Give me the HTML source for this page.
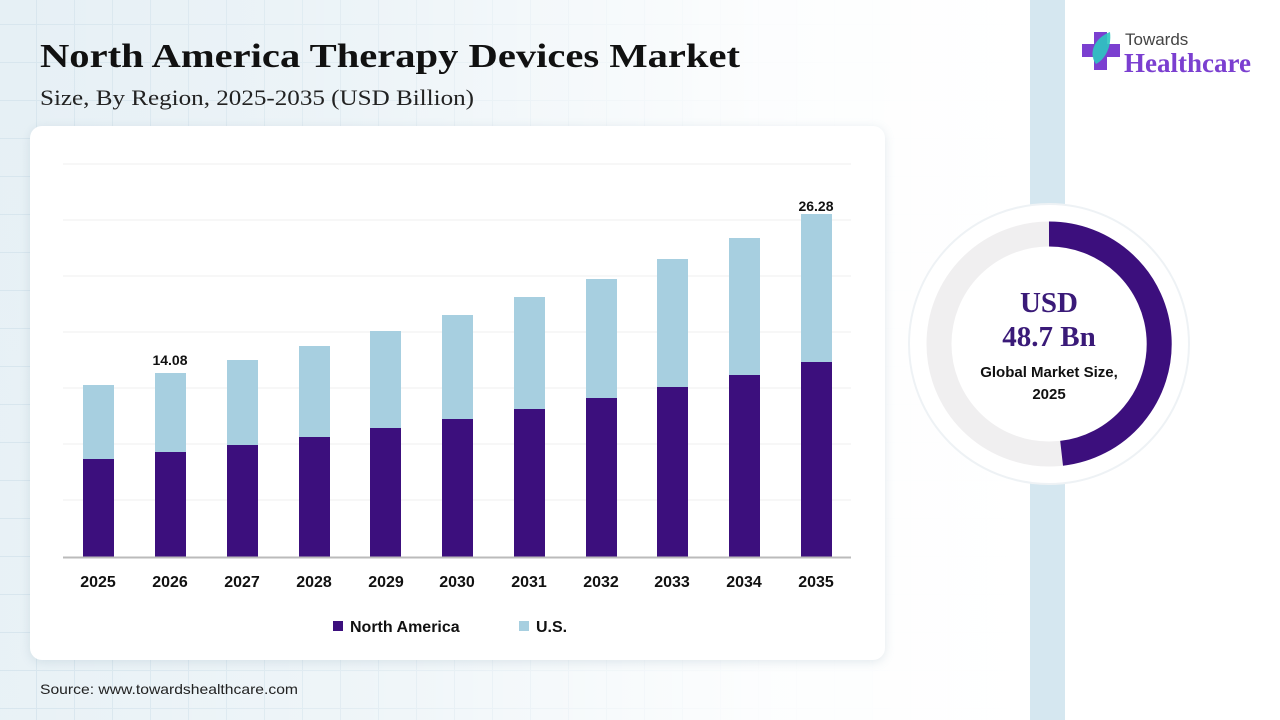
<!DOCTYPE html>
<html><head><meta charset="utf-8"><style>
html,body{margin:0;padding:0}
body{width:1280px;height:720px;position:relative;overflow:hidden;background:#fff;font-family:"Liberation Sans",sans-serif}
.bg{position:absolute;left:0;top:0;width:1030px;height:720px;
background-image:linear-gradient(90deg,rgba(255,255,255,0.1) 0,rgba(255,255,255,0.35) 35%,rgba(255,255,255,0.9) 75%,#fff 100%),
linear-gradient(#d3e3ec 1px,transparent 1px),linear-gradient(90deg,#d3e3ec 1px,transparent 1px),linear-gradient(#e3eef4,#e6f0f5);
background-size:100% 100%,38px 38px,38px 38px,100% 100%;background-position:0 0,0 24px,36px 0,0 0}
.strip{position:absolute;left:1030px;top:0;width:35px;height:720px;background:#d5e7f0}
.card{position:absolute;left:30px;top:126px;width:855px;height:534px;background:#fff;border-radius:12px;box-shadow:0 2px 10px rgba(120,150,170,0.2)}
</style></head><body>
<div class="bg"></div><div class="strip"></div>
<div class="card"></div>
<svg width="1280" height="720" style="position:absolute;left:0;top:0" font-family="Liberation Sans, sans-serif">
<text x="40" y="67" font-family="Liberation Serif, serif" font-weight="bold" font-size="34" fill="#111" textLength="700" lengthAdjust="spacingAndGlyphs">North America Therapy Devices Market</text>
<text x="40" y="105" font-family="Liberation Serif, serif" font-size="22" fill="#222" textLength="434" lengthAdjust="spacingAndGlyphs">Size, By Region, 2025-2035 (USD Billion)</text>
<text x="40" y="694" font-size="14" fill="#222" textLength="258" lengthAdjust="spacingAndGlyphs">Source: www.towardshealthcare.com</text>
<g stroke="#efefef" stroke-width="1">
<line x1="63" x2="851" y1="164" y2="164"/><line x1="63" x2="851" y1="220" y2="220"/><line x1="63" x2="851" y1="276" y2="276"/><line x1="63" x2="851" y1="332" y2="332"/><line x1="63" x2="851" y1="388" y2="388"/><line x1="63" x2="851" y1="444" y2="444"/><line x1="63" x2="851" y1="500" y2="500"/>
</g>
<g fill="#a7cfe0">
<rect x="83" y="385" width="31" height="172"/><rect x="155" y="373" width="31" height="184"/><rect x="227" y="360" width="31" height="197"/><rect x="299" y="346" width="31" height="211"/><rect x="370" y="331" width="31" height="226"/><rect x="442" y="315" width="31" height="242"/><rect x="514" y="297" width="31" height="260"/><rect x="586" y="279" width="31" height="278"/><rect x="657" y="259" width="31" height="298"/><rect x="729" y="238" width="31" height="319"/><rect x="801" y="214" width="31" height="343"/>
</g>
<g fill="#3c0f7d">
<rect x="83" y="459" width="31" height="98"/><rect x="155" y="452" width="31" height="105"/><rect x="227" y="445" width="31" height="112"/><rect x="299" y="437" width="31" height="120"/><rect x="370" y="428" width="31" height="129"/><rect x="442" y="419" width="31" height="138"/><rect x="514" y="409" width="31" height="148"/><rect x="586" y="398" width="31" height="159"/><rect x="657" y="387" width="31" height="170"/><rect x="729" y="375" width="31" height="182"/><rect x="801" y="362" width="31" height="195"/>
</g>
<line x1="63" x2="851" y1="557.5" y2="557.5" stroke="#bbb" stroke-width="2"/>
<g font-size="16" font-weight="bold" fill="#111" text-anchor="middle">
<text x="98" y="587">2025</text><text x="170" y="587">2026</text><text x="242" y="587">2027</text><text x="314" y="587">2028</text><text x="386" y="587">2029</text><text x="457" y="587">2030</text><text x="529" y="587">2031</text><text x="601" y="587">2032</text><text x="672" y="587">2033</text><text x="744" y="587">2034</text><text x="816" y="587">2035</text>
<text x="170" y="365" font-size="14">14.08</text><text x="816" y="211" font-size="14">26.28</text>
</g>
<rect x="333" y="621" width="10" height="10" fill="#3c0f7d"/>
<text x="350" y="632" font-size="16" font-weight="bold" fill="#111">North America</text>
<rect x="519" y="621" width="10" height="10" fill="#a7cfe0"/>
<text x="536" y="632" font-size="16" font-weight="bold" fill="#111">U.S.</text>
<circle cx="1049" cy="344" r="140" fill="#fff" stroke="#eef2f5" stroke-width="2"/>
<circle cx="1049" cy="344" r="110" fill="none" stroke="#f0eff0" stroke-width="25"/>
<path d="M1049 234 A110 110 0 0 1 1061.6 453.3" fill="none" stroke="#3c0f7d" stroke-width="25"/>
<g text-anchor="middle">
<text x="1049" y="312" font-family="Liberation Serif, serif" font-weight="bold" font-size="29" fill="#3a1a78">USD</text>
<text x="1049" y="346" font-family="Liberation Serif, serif" font-weight="bold" font-size="29" fill="#3a1a78">48.7 Bn</text>
<text x="1049" y="377" font-size="15" font-weight="bold" fill="#111">Global Market Size,</text>
<text x="1049" y="399" font-size="15" font-weight="bold" fill="#111">2025</text>
</g>
<g transform="translate(1082,30)">
<rect x="0" y="14" width="38" height="13" fill="#7b3fd0"/><rect x="12" y="2" width="13" height="38" fill="#7b3fd0"/>
<path d="M28 2 C12 8 6 24 14 34 C22 30 30 18 28 2Z" fill="#2cc7c0" opacity="0.9"/>
</g>
<text x="1125" y="45" font-size="17" fill="#444">Towards</text>
<text x="1124" y="72" font-family="Liberation Serif, serif" font-weight="bold" font-size="27" fill="#7b3fd0">Healthcare</text>
</svg>
</body></html>
